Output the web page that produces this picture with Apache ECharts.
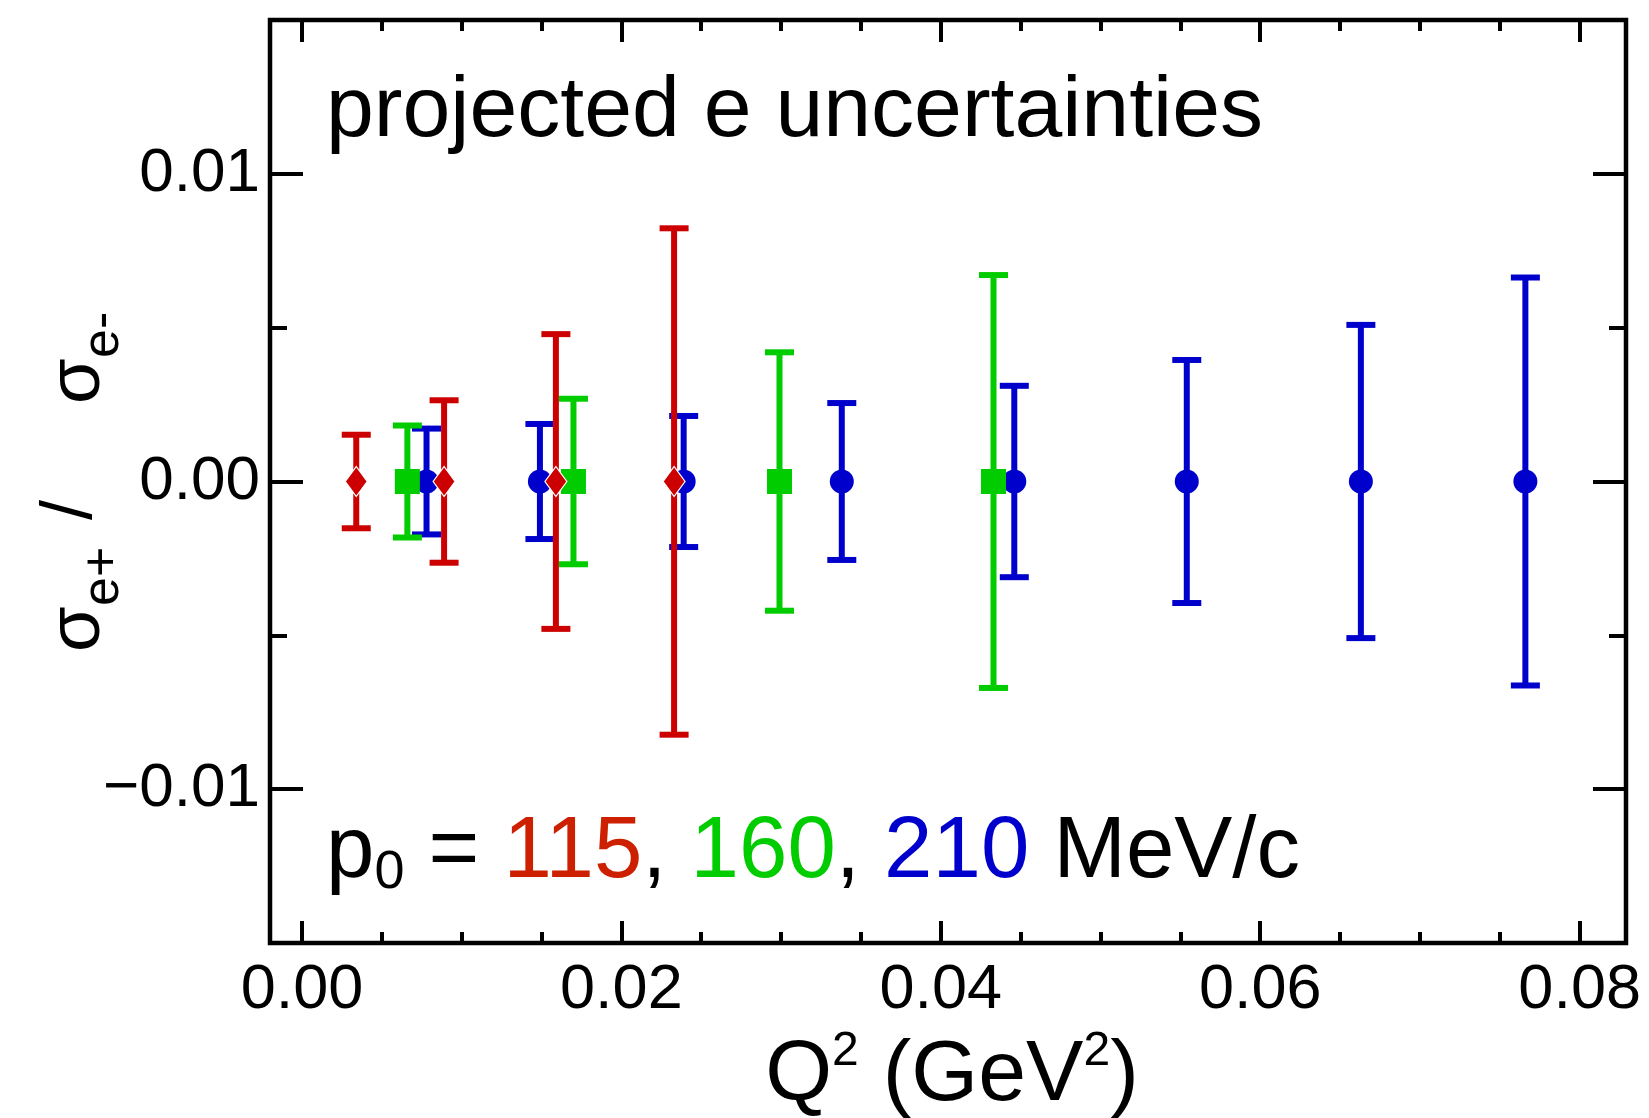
<!DOCTYPE html>
<html>
<head>
<meta charset="utf-8">
<script src="https://cdn.jsdelivr.net/npm/echarts@6/dist/echarts.min.js"></script>
<style>
  html, body { margin: 0; padding: 0; background: #ffffff; }
  #chart { width: 1649px; height: 1118px; }
</style>
</head>
<body>
<div id="chart"></div>
<script>
// Projected e+/e- cross-section ratio uncertainties vs Q^2, three beam momenta.
const q2_115  = [0.0034, 0.0089, 0.0159, 0.0233];
const val_115 = [0, 0, 0, 0];
const err_115 = [0.00152, 0.00264, 0.00479, 0.00823];

const q2_160  = [0.0066, 0.0170, 0.0299, 0.0433];
const val_160 = [0, 0, 0, 0];
const err_160 = [0.00182, 0.00269, 0.00420, 0.00671];

const q2_210  = [0.0078, 0.0149, 0.0239, 0.0338, 0.0446, 0.0554, 0.0663, 0.0766];
const val_210 = [0, 0, 0, 0, 0, 0, 0, 0];
const err_210 = [0.00172, 0.00187, 0.00213, 0.00255, 0.00311, 0.00395, 0.00509, 0.00663];

// Axis ranges and tick positions
const xRange = [-0.002, 0.0829];
const yRange = [-0.015, 0.015];
const xTicksMajor = [0, 0.02, 0.04, 0.06, 0.08];
const xTicksMinor = [0.005, 0.01, 0.015, 0.025, 0.03, 0.035, 0.045, 0.05, 0.055, 0.065, 0.07, 0.075];
const yTicksMajor = [-0.01, 0, 0.01];
const yTicksMinor = [-0.005, 0.005];
const yTickLabels = { '-0.01': '\u22120.01', '0': '0.00', '0.01': '0.01' };

const FONT = '"Liberation Sans", Arial, Helvetica, sans-serif';
const RED = '#cc0000', GREEN = '#00cc00', BLUE = '#0000cc';

function points(xs, ys) { return xs.map((x, i) => [x, ys[i]]); }
function bars(xs, ys, es) { return xs.map((x, i) => [x, ys[i] - es[i], ys[i] + es[i]]); }

function errorBarSeries(name, data, color) {
  const CAP = 29, LW = 6;
  return {
    name, type: 'custom', data,
    encode: { x: 0, y: [1, 2] },
    renderItem(params, api) {
      const x = api.value(0);
      const top = api.coord([x, api.value(2)]);
      const bot = api.coord([x, api.value(1)]);
      const style = { stroke: color, lineWidth: LW, fill: null };
      const h = CAP / 2;
      return {
        type: 'group',
        children: [
          { type: 'line', shape: { x1: top[0], y1: top[1], x2: bot[0], y2: bot[1] }, style },
          { type: 'line', shape: { x1: top[0] - h, y1: top[1], x2: top[0] + h, y2: top[1] }, style },
          { type: 'line', shape: { x1: bot[0] - h, y1: bot[1], x2: bot[0] + h, y2: bot[1] }, style }
        ]
      };
    }
  };
}

function markerSeries(name, data, color, symbol, size, border) {
  return {
    name, type: 'scatter', data, symbol, symbolSize: size,
    itemStyle: { color, opacity: 1, borderColor: '#ffffff', borderWidth: border },
    emphasis: { disabled: true }
  };
}

function xAxisDef(position, tickLen, ticks, withLabels) {
  return {
    type: 'value', position, min: xRange[0], max: xRange[1],
    axisLine: { show: false, onZero: false },
    splitLine: { show: false },
    axisTick: { show: true, inside: true, length: tickLen, customValues: ticks,
                lineStyle: { color: '#000', width: 4 } },
    axisLabel: withLabels ? {
      show: true, customValues: ticks, margin: 16,
      formatter: v => v.toFixed(2),
      fontFamily: FONT, fontSize: 63, color: '#000'
    } : { show: false }
  };
}

function yAxisDef(position, tickLen, ticks, withLabels) {
  return {
    type: 'value', position, min: yRange[0], max: yRange[1],
    axisLine: { show: false, onZero: false },
    splitLine: { show: false },
    axisTick: { show: true, inside: true, length: tickLen, customValues: ticks,
                lineStyle: { color: '#000', width: 4 } },
    axisLabel: withLabels ? {
      show: true, customValues: ticks, margin: 10,
      formatter: v => yTickLabels[String(Math.round(v * 100) / 100)] ?? String(v),
      fontFamily: FONT, fontSize: 62, color: '#000'
    } : { show: false }
  };
}

const chart = echarts.init(document.getElementById('chart'), null, { renderer: 'canvas' });

const option = {
  animation: false,
  backgroundColor: '#ffffff',
  grid: {
    left: 270, top: 20, width: 1356, height: 923,
    show: true, borderColor: '#000', borderWidth: 4.5, backgroundColor: 'transparent'
  },
  xAxis: [
    xAxisDef('bottom', 22, xTicksMajor, true),
    xAxisDef('bottom', 11, xTicksMinor, false),
    xAxisDef('top', 22, xTicksMajor, false),
    xAxisDef('top', 11, xTicksMinor, false)
  ],
  yAxis: [
    yAxisDef('left', 33, yTicksMajor, true),
    yAxisDef('left', 17, yTicksMinor, false),
    yAxisDef('right', 33, yTicksMajor, false),
    yAxisDef('right', 17, yTicksMinor, false)
  ],
  series: [
    errorBarSeries('210 err', bars(q2_210, val_210, err_210), BLUE),
    markerSeries('210 MeV/c', points(q2_210, val_210), BLUE, 'circle', 24, 0),
    errorBarSeries('160 err', bars(q2_160, val_160, err_160), GREEN),
    markerSeries('160 MeV/c', points(q2_160, val_160), GREEN, 'rect', 25, 0),
    errorBarSeries('115 err', bars(q2_115, val_115, err_115), RED),
    markerSeries('115 MeV/c', points(q2_115, val_115), RED, 'diamond', [22, 30], 1.2)
  ],
  graphic: [
    {
      type: 'text', x: 326, y: 112, silent: true,
      style: { text: 'projected e uncertainties', fontFamily: FONT, fontSize: 86,
               fill: '#000', verticalAlign: 'middle', align: 'left' }
    },
    {
      type: 'text', x: 326, y: 853, silent: true,
      style: {
        text: '{n|p}{s|0}{n| = }{r|115}{n|, }{g|160}{n|, }{b|210}{n| MeV/c}',
        verticalAlign: 'middle', align: 'left',
        rich: {
          n: { fontFamily: FONT, fontSize: 87, lineHeight: 94, fill: '#000' },
          s: { fontFamily: FONT, fontSize: 54, lineHeight: 54, fill: '#000', verticalAlign: 'bottom' },
          r: { fontFamily: FONT, fontSize: 87, lineHeight: 94, fill: '#cc2000' },
          g: { fontFamily: FONT, fontSize: 87, lineHeight: 94, fill: '#00cc00' },
          b: { fontFamily: FONT, fontSize: 87, lineHeight: 94, fill: '#0000cc' }
        }
      }
    },
    {
      type: 'text', x: 952, y: 1076, silent: true,
      style: {
        text: '{n|Q}{u|2}{n| (GeV}{u|2}{n|)}',
        verticalAlign: 'middle', align: 'center',
        rich: {
          n: { fontFamily: FONT, fontSize: 86, lineHeight: 96, fill: '#000' },
          u: { fontFamily: FONT, fontSize: 48, lineHeight: 52, fill: '#000', verticalAlign: 'top' }
        }
      }
    },
    {
      type: 'group', x: 79, y: 652, rotation: Math.PI / 2, silent: true,
      children: [
        { type: 'text', x: 0, y: 0,
          style: { text: '\u03c3', fontFamily: FONT, fontSize: 74, fill: '#000', verticalAlign: 'middle', align: 'left' } },
        { type: 'text', x: 46, y: 25,
          style: { text: 'e+', fontFamily: FONT, fontSize: 52, fill: '#000', verticalAlign: 'middle', align: 'left' } },
        { type: 'text', x: 132, y: -8,
          style: { text: '/', fontFamily: FONT, fontSize: 72, fill: '#000', verticalAlign: 'middle', align: 'left' } },
        { type: 'text', x: 248, y: 0,
          style: { text: '\u03c3', fontFamily: FONT, fontSize: 74, fill: '#000', verticalAlign: 'middle', align: 'left' } },
        { type: 'text', x: 294, y: 25,
          style: { text: 'e-', fontFamily: FONT, fontSize: 52, fill: '#000', verticalAlign: 'middle', align: 'left' } }
      ]
    }
  ]
};

chart.setOption(option);
</script>
</body>
</html>
